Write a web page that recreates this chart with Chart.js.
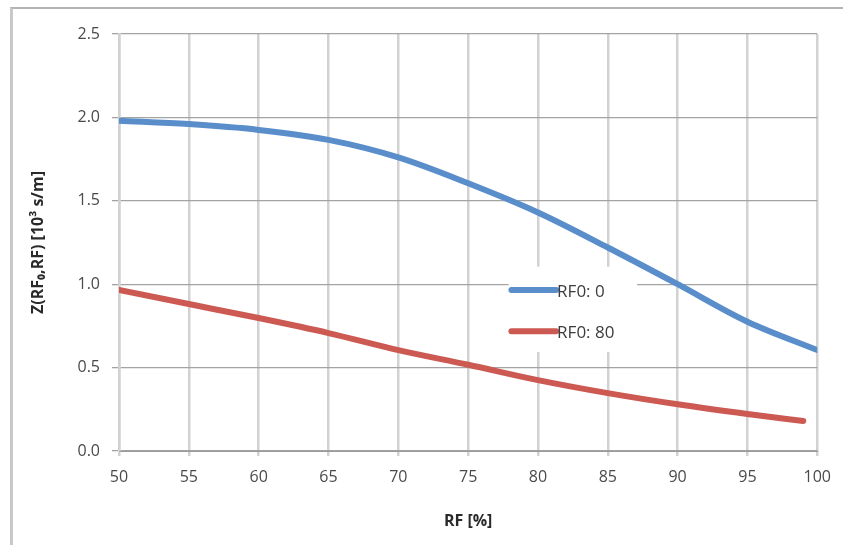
<!DOCTYPE html>
<html>
<head>
<meta charset="utf-8">
<script src="https://cdn.jsdelivr.net/npm/chart.js@4/dist/chart.umd.min.js"></script>
<style>
  body { margin: 0; background: #fff; }
  #wrap { position: relative; width: 843px; height: 545px; }
  #frame { position: absolute; left: 10px; top: 7px; right: 0; bottom: 0; border-left: 3px solid #c9c9c9; border-top: 2px solid #b4b4b4; }
  #chart { position: absolute; left: 0; top: 0; }
</style>
</head>
<body>
<div id="wrap">
  <div id="frame"></div>
  <canvas id="chart" width="843" height="545"></canvas>
</div>
<script>
// RF [%] positions
const rfBlue = [50, 55, 60, 65, 70, 75, 80, 85, 90, 95, 100];
const rfRed = [50, 55, 60, 65, 70, 75, 80, 85, 90, 95, 99];
// Z(RF0,RF) [10^3 s/m]
const zRF0_0 = [1.98, 1.96, 1.925, 1.865, 1.76, 1.605, 1.43, 1.22, 1.0, 0.775, 0.605];
const zRF0_80 = [0.965, 0.881, 0.797, 0.707, 0.605, 0.517, 0.425, 0.347, 0.28, 0.222, 0.18];
const seriesLabels = ["RF0: 0", "RF0: 80"];
const seriesColors = ["#5a8ecb", "#cc5a53"];
const xTicks = { min: 50, max: 100, step: 5 };
const yTicks = { min: 0, max: 2.5, step: 0.5 };

const fontFamily = "'Open Sans', 'DejaVu Sans', sans-serif";

// legend is drawn inside the plot area, like the original
const insideLegend = {
  id: "insideLegend",
  afterDatasetsDraw(chart) {
    const { ctx, scales } = chart;
    const x = scales.x, y = scales.y;
    const boxL = x.getPixelForValue(77.9), boxR = x.getPixelForValue(87.1);
    const boxT = y.getPixelForValue(1.105), boxB = y.getPixelForValue(0.594);
    ctx.save();
    ctx.fillStyle = "#fff";
    ctx.fillRect(boxL, boxT, boxR - boxL, boxB - boxT);
    const rows = [0.965, 0.718];
    chart.data.datasets.forEach((ds, i) => {
      const py = y.getPixelForValue(rows[i]);
      const x0 = x.getPixelForValue(78.1), x1 = x.getPixelForValue(81.3);
      ctx.strokeStyle = ds.borderColor;
      ctx.lineWidth = 6;
      ctx.lineCap = "round";
      ctx.beginPath();
      ctx.moveTo(x0, py);
      ctx.lineTo(x1, py);
      ctx.stroke();
      ctx.fillStyle = "#3c3c3c";
      ctx.font = "17px " + fontFamily;
      ctx.textBaseline = "middle";
      ctx.fillText(ds.label, x1 + 1, py + 2);
    });
    ctx.restore();
  }
};

new Chart(document.getElementById("chart").getContext("2d"), {
  type: "line",
  data: {
    datasets: [
      {
        label: seriesLabels[0],
        data: rfBlue.map((v, i) => ({ x: v, y: zRF0_0[i] })),
        borderColor: seriesColors[0],
      },
      {
        label: seriesLabels[1],
        data: rfRed.map((v, i) => ({ x: v, y: zRF0_80[i] })),
        borderColor: seriesColors[1],
      },
    ],
  },
  options: {
    responsive: false,
    animation: false,
    events: [],
    layout: { padding: { left: 0, top: 34, right: 24, bottom: 0 } },
    elements: {
      line: { borderWidth: 6, cubicInterpolationMode: "monotone", borderCapStyle: "round", fill: false },
      point: { radius: 0 },
    },
    plugins: {
      legend: { display: false },
      tooltip: { enabled: false },
    },
    scales: {
      x: {
        type: "linear",
        min: xTicks.min,
        max: xTicks.max,
        afterFit: (s) => { s.height = 94; },
        ticks: {
          stepSize: xTicks.step,
          color: "#4a4a4a",
          padding: 12,
          maxRotation: 0,
          font: { family: fontFamily, size: 16 },
        },
        grid: { color: "#d2d2d2", lineWidth: 2.5, tickLength: 5 },
        border: { color: "#9a9a9a", width: 1 },
        title: {
          display: true,
          text: "RF [%]",
          color: "#2a2a2a",
          padding: { top: 0, bottom: 14 },
          font: { family: fontFamily, size: 16, weight: "bold" },
        },
      },
      y: {
        min: yTicks.min,
        max: yTicks.max,
        afterFit: (s) => { s.width = 119; },
        ticks: {
          stepSize: yTicks.step,
          color: "#4a4a4a",
          padding: 12,
          font: { family: fontFamily, size: 16 },
          callback: (v) => v.toFixed(1),
        },
        grid: { color: "#a3a3a3", lineWidth: 1.3, tickLength: 7 },
        border: { color: "#d2d2d2", width: 2.5 },
        title: {
          display: true,
          text: "Z(RF\u2080,RF) [10\u00b3 s/m]",
          color: "#2a2a2a",
          padding: { top: 29, bottom: 0 },
          font: { family: fontFamily, size: 16, weight: "bold" },
        },
      },
    },
  },
  plugins: [insideLegend],
});
</script>
</body>
</html>
